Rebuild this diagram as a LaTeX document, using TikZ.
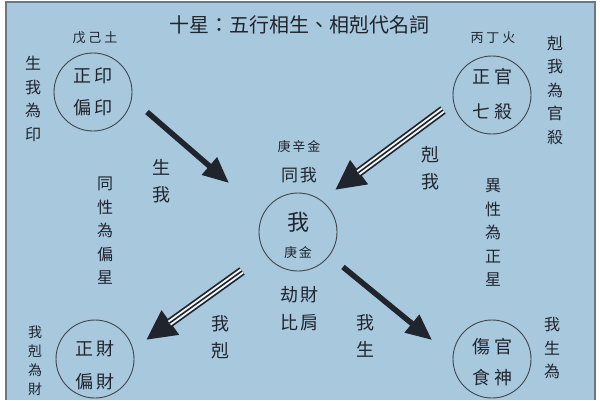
\documentclass[tikz,border=0pt]{standalone}
\usepackage{fontspec}
\setmainfont{Noto Sans CJK TC}
\usetikzlibrary{arrows.meta}
\definecolor{bgblue}{RGB}{168,200,222}
\definecolor{ink}{RGB}{32,36,44}
\definecolor{frame}{RGB}{110,118,128}
\newcommand\gp{\hspace{4pt}}
\begin{document}
\begin{tikzpicture}[x=1pt,y=-1pt,
  ring/.style={circle,draw=ink!85,line width=0.9pt,inner sep=0pt,minimum size=78pt},
  big/.style={text=ink,inner sep=0pt,font=\fontsize{18}{18}\selectfont},
  mid/.style={text=ink,inner sep=0pt,font=\fontsize{17}{17}\selectfont},
  small/.style={text=ink,inner sep=0pt,font=\fontsize{13}{13}\selectfont},
  vtext/.style={text=ink,inner sep=0pt,align=center,font=\fontsize{16}{23.5}\selectfont},
  vtight/.style={text=ink,inner sep=0pt,align=center,font=\fontsize{14}{19}\selectfont},
  vwide/.style={text=ink,inner sep=0pt,align=center,font=\fontsize{18}{27}\selectfont},
  solidarrow/.style={line width=5.5pt,draw=ink,-{Triangle[length=26pt,width=22pt]}},
  stripeout/.style={line width=9pt,draw=ink,-{Triangle[length=30pt,width=28pt]}},
  stripein/.style={line width=5.5pt,draw=white!85!bgblue,shorten >=29pt},
  stripemid/.style={line width=1.6pt,draw=ink,shorten >=29pt}]
\useasboundingbox (0,0) rectangle (600,400);
\fill[white] (0,0) rectangle (600,400);
\fill[bgblue] (6,2) rectangle (595,400);
\draw[frame,line width=2.5pt] (6,400) -- (6,2) -- (595,2) -- (595,400);
\begin{scope}
\clip (6,2) rectangle (595,400);
% title
\node[text=ink,inner sep=0pt,font=\fontsize{20}{20}\selectfont] (title) at (299,25) {十星：五行相生、相剋代名詞};
% circles
\node[ring] (yin) at (93,92) {};
\node[ring] (guan) at (492,95) {};
\node[ring] (wo) at (298,232) {};
\node[ring] (cai) at (95,359) {};
\node[ring] (shi) at (492,359) {};
% circle texts
\node[big] (yin1) at (93,76) {正\gp 印};
\node[big] (yin2) at (93,108) {偏\gp 印};
\node[big] (guan1) at (492,77) {正\gp 官};
\node[big] (guan2) at (492,112) {七\gp 殺};
\node[text=ink,inner sep=0pt,font=\fontsize{22}{22}\selectfont] (wo1) at (298,222) {我};
\node[small] (wo2) at (298,253) {庚\hspace{2pt}金};
\node[big] (cai1) at (95,349) {正\gp 財};
\node[big] (cai2) at (95,382) {偏\gp 財};
\node[big] (shi1) at (492,347) {傷\gp 官};
\node[big] (shi2) at (492,378) {食\gp 神};
% small labels above circles
\node[small] (l1) at (95,38) {戊\hspace{3pt}己\hspace{3pt}土};
\node[small] (l2) at (493,38) {丙\hspace{3pt}丁\hspace{3pt}火};
\node[small] (l3) at (299,147) {庚\hspace{2pt}辛\hspace{2pt}金};
\node[mid] (l4) at (299,175) {同\hspace{2pt}我};
\node[big] (l5) at (299,295) {劫\hspace{2pt}財};
\node[big] (l6) at (299,323) {比\hspace{2pt}肩};
% vertical side texts
\node[vtext] (s1) at (33,99) {生\\我\\為\\印};
\node[vtext] (s2) at (555,90) {剋\\我\\為\\官\\殺};
\node[vtight,anchor=north] (s3) at (35,326) {我\\剋\\為\\財};
\node[vtext,anchor=north] (s4) at (552,317) {我\\生\\為};
\node[vtext] (s5) at (105,231) {同\\性\\為\\偏\\星};
\node[vtext] (s6) at (493,233) {異\\性\\為\\正\\星};
\node[vwide] (s7) at (161,181) {生\\我};
\node[vwide] (s8) at (430,168) {剋\\我};
\node[vwide] (s9) at (220,337) {我\\剋};
\node[vwide] (s10) at (365,336) {我\\生};
% arrow end points
\coordinate (a1s) at (147,112); \coordinate (a1e) at (229,183);
\coordinate (a2s) at (443,110); \coordinate (a2e) at (335,190);
\coordinate (a3s) at (242,271); \coordinate (a3e) at (146,340);
\coordinate (a4s) at (343,267); \coordinate (a4e) at (432,340);
% arrows
\draw[solidarrow] (a1s) -- (a1e);
\draw[solidarrow] (a4s) -- (a4e);
\draw[stripeout] (a2s) -- (a2e);
\draw[stripein] (a2s) -- (a2e);
\draw[stripemid] (a2s) -- (a2e);
\draw[stripeout] (a3s) -- (a3e);
\draw[stripein] (a3s) -- (a3e);
\draw[stripemid] (a3s) -- (a3e);
\end{scope}
\end{tikzpicture}
\end{document}
